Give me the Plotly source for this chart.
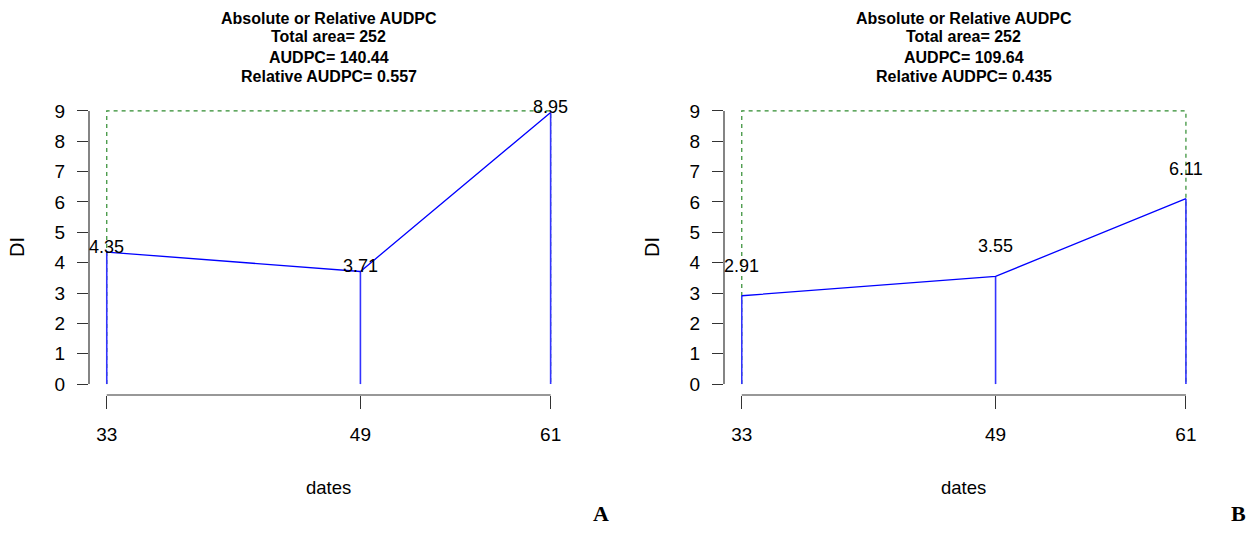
import plotly.graph_objects as go

dates = [33, 49, 61]
di_a = [4.35, 3.71, 8.95]
di_b = [2.91, 3.55, 6.11]
y_max = 9
titles_a = ["Absolute or Relative AUDPC", "Total area= 252", "AUDPC= 140.44", "Relative AUDPC= 0.557"]
titles_b = ["Absolute or Relative AUDPC", "Total area= 252", "AUDPC= 109.64", "Relative AUDPC= 0.435"]
panel_letters = ["A", "B"]
y_ticks = list(range(0, 10))

W, H = 1251, 553
FONT = "Liberation Sans, Arial, sans-serif"
AX = "#333333"

fig = go.Figure()

px_dom = [(89, 568.4), (724, 1203.7)]
y_top, y_bot = 100, 395
ydom = [1 - y_bot / H, 1 - y_top / H]

panels = [(di_a, titles_a, 5), (di_b, titles_b, 30)]

for i, (vals, titles, lshift) in enumerate(panels):
    xa = "x" if i == 0 else "x2"
    ya = "y" if i == 0 else "y2"
    # green dashed max rectangle
    fig.add_trace(go.Scatter(
        x=[dates[0], dates[0], dates[-1], dates[-1]], y=[0, y_max, y_max, 0],
        mode="lines", line=dict(color="#2E8B2E", width=1.2, dash="4px,4px"),
        xaxis=xa, yaxis=ya, showlegend=False, hoverinfo="skip"))
    # vertical "h" lines
    hx, hy = [], []
    for d, v in zip(dates, vals):
        hx += [d, d, None]
        hy += [0, v, None]
    fig.add_trace(go.Scatter(x=hx, y=hy, mode="lines",
                             line=dict(color="#3333FF", width=1.6),
                             xaxis=xa, yaxis=ya, showlegend=False, hoverinfo="skip"))
    fig.add_trace(go.Scatter(x=dates, y=vals, mode="lines",
                             line=dict(color="#0000FF", width=1.3),
                             xaxis=xa, yaxis=ya, showlegend=False, hoverinfo="skip"))
    for d, v in zip(dates, vals):
        fig.add_annotation(x=d, y=v, xref=xa, yref=ya, text=f"{v:.2f}",
                           showarrow=False, yshift=lshift, xanchor="center", yanchor="middle",
                           font=dict(family=FONT, size=18, color="black"))
    cx = (px_dom[i][0] + px_dom[i][1]) / 2 / W
    for t, ypx in zip(titles, [18.3, 37, 57.5, 77]):
        fig.add_annotation(x=cx, y=1 - ypx / H, xref="paper", yref="paper", text=f"<b>{t}</b>",
                           showarrow=False, xanchor="center", yanchor="middle",
                           font=dict(family=FONT, size=16, color="black"))
    # axis labels
    fig.add_annotation(x=cx, y=1 - 487 / H, xref="paper", yref="paper", text="dates",
                       showarrow=False, xanchor="center", yanchor="middle",
                       font=dict(family=FONT, size=18.5, color="black"))
    fig.add_annotation(x=(px_dom[i][0] - 72.5) / W, y=(ydom[0] + ydom[1]) / 2, xref="paper", yref="paper",
                       text="DI", textangle=-90, showarrow=False, xanchor="center", yanchor="middle",
                       font=dict(family=FONT, size=20, color="black"))
    # axis lines (R style detached)
    fig.add_shape(type="line", xref=xa, yref=f"{ya} domain", x0=dates[0], x1=dates[-1], y0=0, y1=0,
                  line=dict(color=AX, width=1.2))
    fig.add_shape(type="line", xref=f"{xa} domain", yref=ya, x0=0, x1=0, y0=y_ticks[0], y1=y_ticks[-1],
                  line=dict(color=AX, width=1.2))

letter_x = [601, 1238]
for L, lx in zip(panel_letters, letter_x):
    fig.add_annotation(x=lx / W, y=1 - 513 / H, xref="paper", yref="paper", text=f"<b>{L}</b>",
                       showarrow=False, xanchor="center", yanchor="middle",
                       font=dict(family="Liberation Serif, Times New Roman, serif", size=22, color="black"))

xcommon = dict(range=[31.88, 62.12], tickvals=dates, ticktext=[str(d) for d in dates],
               showgrid=False, zeroline=False, showline=False, ticks="outside", ticklen=13,
               tickcolor=AX, tickwidth=1.2, ticklabelstandoff=9,
               tickfont=dict(family=FONT, size=19, color="black"))
ycommon = dict(range=[-0.36, 9.36], tickvals=y_ticks, showgrid=False, zeroline=False, showline=False,
               ticks="outside", ticklen=11, tickcolor=AX, tickwidth=1.2, ticklabelstandoff=8,
               tickfont=dict(family=FONT, size=19, color="black"))

fig.update_layout(
    width=W, height=H, margin=dict(l=0, r=0, t=0, b=0),
    plot_bgcolor="white", paper_bgcolor="white",
    xaxis=dict(domain=[px_dom[0][0] / W, px_dom[0][1] / W], anchor="y", **xcommon),
    yaxis=dict(domain=ydom, anchor="x", **ycommon),
    xaxis2=dict(domain=[px_dom[1][0] / W, px_dom[1][1] / W], anchor="y2", **xcommon),
    yaxis2=dict(domain=ydom, anchor="x2", **ycommon),
)

fig.write_html("out.html")
